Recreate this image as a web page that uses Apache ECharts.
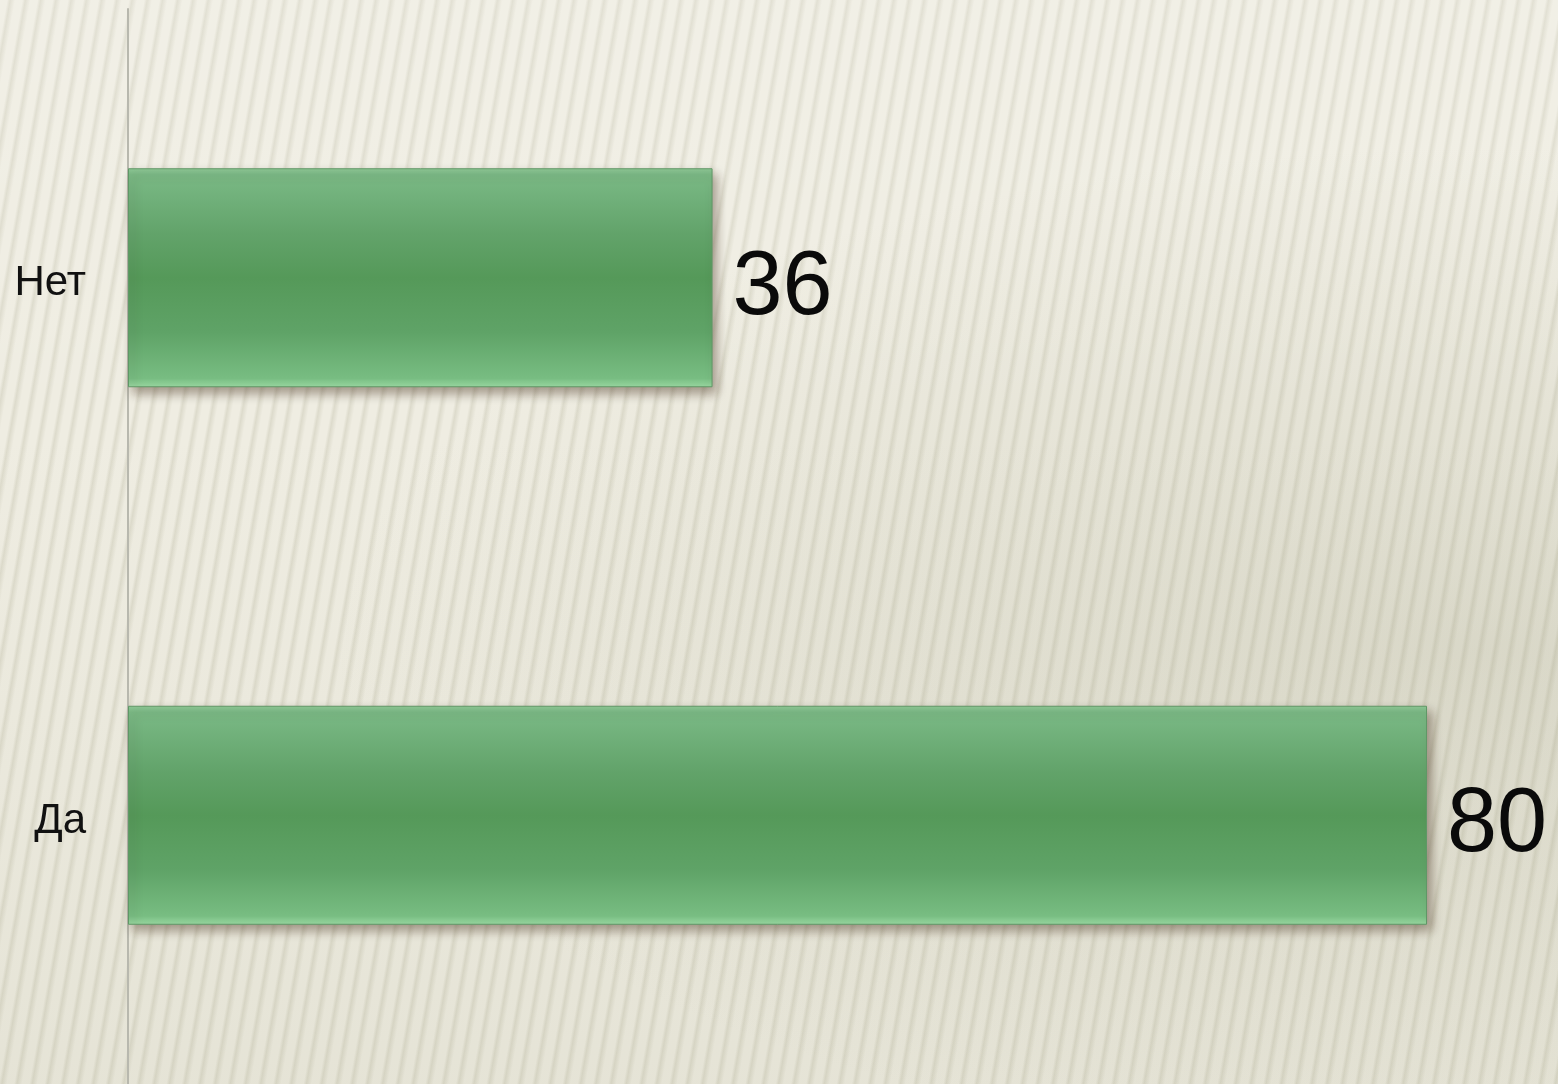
<!DOCTYPE html>
<html>
<head>
<meta charset="utf-8">
<script src="https://cdn.jsdelivr.net/npm/echarts@6/dist/echarts.min.js"></script>
<style>
  html, body { margin: 0; padding: 0; }
  #main {
    width: 1558px;
    height: 1084px;
    /* фон слайда: светлый беж с косыми полосками */
    background:
      radial-gradient(ellipse at 95% 60%, rgba(150,150,120,0.22), rgba(150,150,120,0) 55%),
      linear-gradient(180deg, rgba(255,255,255,0.15) 0%, rgba(255,255,255,0) 40%, rgba(160,160,130,0.12) 100%),
      repeating-linear-gradient(100deg, #efede2 0px, #efede2 7px, #dddbcc 10px, #efede2 15px);
  }
</style>
</head>
<body>
<div id="main"></div>
<script>
// данные
var categories = ['Да', 'Нет']
var values = [80, 36]

var chart = echarts.init(document.getElementById('main'))

var option = {
  backgroundColor: 'transparent',
  grid: {
    left: 128,
    top: 9,
    width: 1299,
    height: 1082
  },
  xAxis: {
    type: 'value',
    min: 0,
    max: 80,
    show: false
  },
  yAxis: {
    type: 'category',
    data: categories,
    axisLine: { show: true, lineStyle: { color: '#b8b8ae', width: 2 } },
    axisTick: { show: false },
    axisLabel: {
      margin: 42,
      formatter: '{a|{value}}',
      rich: {
        a: {
          fontSize: 42,
          fontFamily: 'Liberation Sans',
          color: '#111',
          padding: [12, 0, 0, 0]
        }
      }
    }
  },
  series: [
    {
      type: 'bar',
      data: values,
      barWidth: 219,
      itemStyle: {
        // зелёный градиент с фаской
        color: new echarts.graphic.LinearGradient(0, 0, 0, 1, [
          { offset: 0, color: '#8fc997' },
          { offset: 0.03, color: '#7ab985' },
          { offset: 0.3, color: '#62a36a' },
          { offset: 0.5, color: '#559959' },
          { offset: 0.75, color: '#5fa367' },
          { offset: 0.96, color: '#78bd82' },
          { offset: 1, color: '#9ad9a2' }
        ]),
        borderColor: '#5f9766',
        borderWidth: 1,
        shadowColor: 'rgba(70,50,30,0.45)',
        shadowBlur: 10,
        shadowOffsetX: 4,
        shadowOffsetY: 6
      },
      label: {
        show: true,
        position: 'right',
        distance: 20,
        offset: [0, 11],
        fontSize: 90,
        fontFamily: 'Liberation Sans',
        color: '#0a0a0a'
      }
    }
  ]
}
chart.setOption(option)
</script>
</body>
</html>
